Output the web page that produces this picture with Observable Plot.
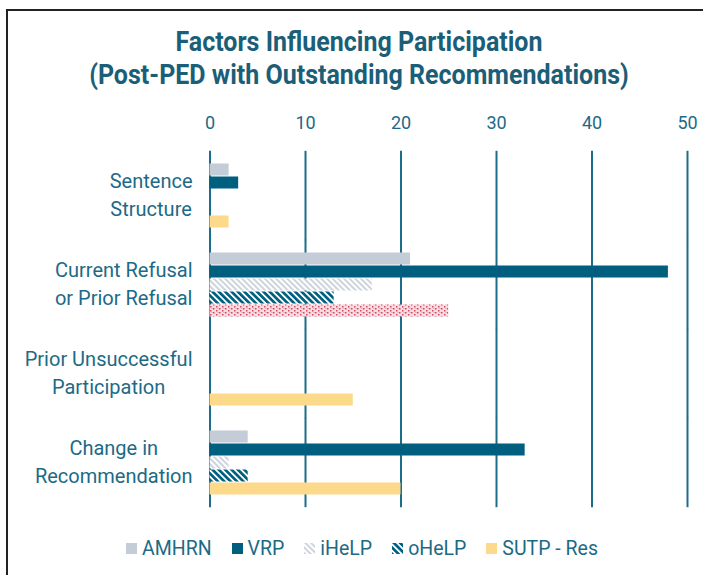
<!DOCTYPE html>
<html><head><meta charset="utf-8">
<script src="https://cdn.jsdelivr.net/npm/d3@7"></script>
<script src="https://cdn.jsdelivr.net/npm/@observablehq/plot@0.6"></script>
<style>
body{margin:0;background:#fff;width:703px;height:575px;overflow:hidden;position:relative;font-family:Roboto,sans-serif}
#frame{position:absolute;left:6px;top:9px;width:720px;height:600px;border-left:2px solid #222;border-top:2px solid #222;box-sizing:border-box}
#title{position:absolute;left:0;top:26px;width:718px;text-align:center;color:#1b5e78;font-family:"Roboto",sans-serif;font-weight:700;font-size:27px;line-height:33px;white-space:nowrap;transform:scaleX(0.926);transform-origin:359px 0}
#chart{position:absolute;left:0;top:100px}
#legend{position:absolute;left:0;width:724px;top:537px;display:flex;justify-content:center;gap:0;font-size:19.5px;color:#1d6a86}
#legend .item{display:flex;align-items:center;margin:0 10px}
#legend svg{margin-right:5px}
</style>
</head><body>
<svg width="0" height="0" style="position:absolute">
<defs>
<pattern id="hatchLight" patternUnits="userSpaceOnUse" width="4" height="4" patternTransform="rotate(-45)">
<rect width="4" height="4" fill="#ffffff"/><rect width="2" height="4" fill="#cdd4dd"/>
</pattern>
<pattern id="hatchDark" patternUnits="userSpaceOnUse" width="4.5" height="4.5" patternTransform="rotate(-45)">
<rect width="4.5" height="4.5" fill="#ffffff"/><rect width="2.7" height="4.5" fill="#00607f"/>
</pattern>
<pattern id="dotsRed" patternUnits="userSpaceOnUse" width="6" height="4">
<rect width="6" height="4" fill="#f3dde2"/>
<rect x="0" y="0" width="1.5" height="1.5" fill="#d24a60"/>
<rect x="3" y="2" width="1.5" height="1.5" fill="#d24a60"/>
<rect x="1.5" y="2" width="1" height="1" fill="#e890a0"/>
</pattern>
</defs>
</svg>
<div id="frame"></div>
<div id="title">Factors Influencing Participation<br>(Post-PED with Outstanding Recommendations)</div>
<div id="chart"></div>
<div id="legend"></div>
<script>
const categories = ["Sentence Structure", "Current Refusal or Prior Refusal", "Prior Unsuccessful Participation", "Change in Recommendation"];
const categoryLines = [["Sentence", "Structure"], ["Current Refusal", "or Prior Refusal"], ["Prior Unsuccessful", "Participation"], ["Change in", "Recommendation"]];
const series = ["AMHRN", "VRP", "iHeLP", "oHeLP", "SUTP - Res"];
const amhrn = [2, 21, 0, 4];
const vrp = [3, 48, 0, 33];
const ihelp = [0, 17, 0, 2];
const ohelp = [0, 13, 0, 4];
const sutpRes = [2, 25, 15, 20];
const xTicks = [0, 10, 20, 30, 40, 50];

const seriesValues = [amhrn, vrp, ihelp, ohelp, sutpRes];
const seriesFills = ["#c3ccd7", "#005f7f", "url(#hatchLight)", "url(#hatchDark)", "#fdd98b"];
const overrideFill = {category: categories[1], series: "SUTP - Res", fill: "url(#dotsRed)"};

const rows = [];
categories.forEach((c, i) => series.forEach((s, j) => {
  const fill = (c === overrideFill.category && s === overrideFill.series) ? overrideFill.fill : seriesFills[j];
  rows.push({category: c, series: s, value: seriesValues[j][i], fill});
}));

const teal = "#1d6a86";
const labelFont = "20px Roboto";
const ctx = document.createElement("canvas").getContext("2d");
ctx.font = labelFont;
const labelGap = 17.5;

const labelMarks = categories.map((c, i) => {
  const w = d3.max(categoryLines[i], l => ctx.measureText(l).width);
  return Plot.text([c], {
    fy: d => d, frameAnchor: "left", text: () => categoryLines[i].join("\n"),
    textAnchor: "middle", dx: -(labelGap + w / 2), dy: -3, lineHeight: 1.4,
    fill: teal, fontSize: 20
  });
});

const chart = Plot.plot({
  width: 703, height: 408,
  marginTop: 50, marginBottom: 0, marginLeft: 209.5, marginRight: 16,
  style: {fontFamily: "Roboto", fontSize: "18px", background: "transparent"},
  x: {domain: [0, 50]},
  fy: {domain: categories, paddingInner: 0.27, paddingOuter: 0.135, axis: null},
  y: {domain: series, padding: 0, axis: null},
  color: {type: "identity"},
  marks: [
    Plot.ruleX(xTicks, {stroke: "#1b6d8b", strokeWidth: 2, insetTop: -12.2, insetBottom: -12.2}),
    Plot.barX(rows, {fy: "category", y: "series", x: "value", fill: "fill", insetTop: 0.5, insetBottom: 0.5}),
    Plot.axisX({anchor: "top", ticks: xTicks, tickSize: 0, tickPadding: 35, color: teal, fontSize: 18, label: null}),
    ...labelMarks
  ]
});
document.getElementById("chart").appendChild(chart);

const legend = document.getElementById("legend");
series.forEach((s, j) => {
  const item = document.createElement("div");
  item.className = "item";
  item.innerHTML = `<svg width="11" height="11"><rect width="11" height="11" fill="${seriesFills[j]}"/></svg><span>${s}</span>`;
  legend.appendChild(item);
});
</script>
</body></html>
